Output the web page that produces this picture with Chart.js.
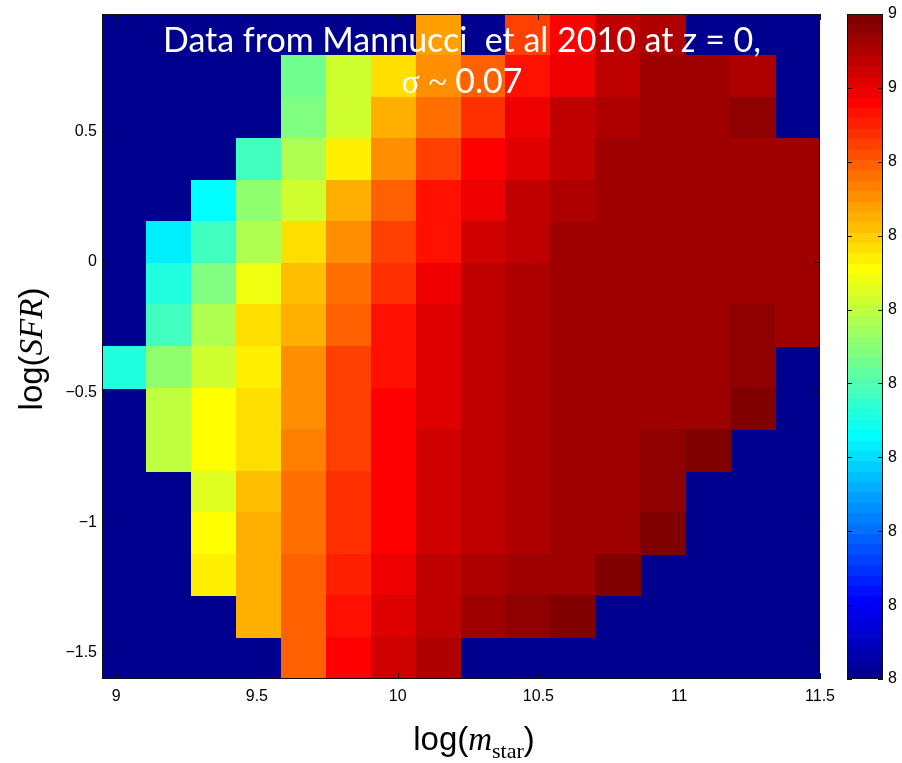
<!DOCTYPE html>
<html>
<head>
<meta charset="utf-8">
<script src="https://cdn.jsdelivr.net/npm/chart.js@4/dist/chart.umd.min.js"></script>
<style>
  body { margin: 0; background: #fff; }
  canvas { display: block; }
</style>
</head>
<body>
<canvas id="metalChart" width="902" height="763"></canvas>
<script>
// bin centres: log stellar mass (columns) and log SFR (rows, top to bottom)
const massBins = [9.030, 9.189, 9.348, 9.508, 9.667, 9.827, 9.986, 10.145,
                  10.305, 10.464, 10.623, 10.783, 10.942, 11.102, 11.261, 11.420];
const sfrBins = [0.870, 0.711, 0.552, 0.392, 0.233, 0.073, -0.086, -0.245,
                 -0.405, -0.564, -0.723, -0.883, -1.042, -1.202, -1.361, -1.520];
const BIN = 0.1594;

// 12+log(O/H) per bin, null = empty bin
const metallicity = [
  [null, null, null, null, null, null, null, 8.89, null, 8.97, 9.03, 9.09, 9.10, null, null, null],
  [null, null, null, null, 8.68, 8.76, 8.83, 8.90, 8.95, 9.02, 9.04, 9.09, 9.11, 9.11, 9.10, null],
  [null, null, null, null, 8.69, 8.76, 8.88, 8.93, 8.99, 9.04, 9.09, 9.10, 9.11, 9.11, 9.13, null],
  [null, null, null, 8.64, 8.74, 8.82, 8.90, 8.97, 9.03, 9.06, 9.09, 9.11, 9.11, 9.11, 9.11, 9.11],
  [null, null, 8.58, 8.71, 8.76, 8.88, 8.95, 9.02, 9.04, 9.09, 9.10, 9.11, 9.11, 9.11, 9.11, 9.11],
  [null, 8.57, 8.64, 8.74, 8.83, 8.90, 8.97, 9.02, 9.07, 9.09, 9.11, 9.11, 9.11, 9.11, 9.11, 9.11],
  [null, 8.61, 8.69, 8.79, 8.86, 8.93, 8.99, 9.04, 9.09, 9.10, 9.11, 9.11, 9.11, 9.11, 9.11, 9.11],
  [null, 8.64, 8.74, 8.83, 8.88, 8.95, 9.02, 9.06, 9.09, 9.10, 9.11, 9.11, 9.11, 9.11, 9.13, 9.11],
  [8.61, 8.71, 8.76, 8.82, 8.90, 8.97, 9.02, 9.06, 9.09, 9.10, 9.11, 9.11, 9.11, 9.11, 9.13, null],
  [null, 8.75, 8.80, 8.83, 8.90, 8.97, 9.03, 9.06, 9.09, 9.10, 9.11, 9.11, 9.11, 9.11, 9.14, null],
  [null, 8.75, 8.80, 8.83, 8.92, 8.97, 9.03, 9.07, 9.09, 9.10, 9.11, 9.11, 9.13, 9.14, null, null],
  [null, null, 8.78, 8.86, 8.93, 8.99, 9.03, 9.07, 9.09, 9.10, 9.11, 9.11, 9.13, null, null, null],
  [null, null, 8.80, 8.88, 8.93, 8.99, 9.03, 9.07, 9.09, 9.10, 9.11, 9.11, 9.14, null, null, null],
  [null, null, 8.82, 8.88, 8.95, 9.00, 9.04, 9.09, 9.10, 9.11, 9.11, 9.14, null, null, null, null],
  [null, null, null, 8.88, 8.95, 9.02, 9.06, 9.09, 9.11, 9.13, 9.14, null, null, null, null, null],
  [null, null, null, null, 8.95, 9.03, 9.07, 9.10, null, null, null, null, null, null, null, null]
];

const massTicks = [9, 9.5, 10, 10.5, 11, 11.5];
const massTickLabels = ['9', '9.5', '10', '10.5', '11', '11.5'];
const sfrTicks = [-1.5, -1, -0.5, 0, 0.5];
const sfrTickLabels = ['\u22121.5', '\u22121', '\u22120.5', '0', '0.5'];
const colorTicks = [8.25, 8.35, 8.45, 8.55, 8.65, 8.75, 8.85, 8.95, 9.05, 9.15];
const colorTickLabels = ['8', '8', '8', '8', '8', '8', '8', '8', '9', '9'];
const colorMin = 8.25, colorMax = 9.15;

// MATLAB style jet colormap with 64 levels
const LEVELS = 64;
function ramp(k) {
  if (k < 1 || k > 47) return 0;
  if (k <= 16) return k / 16;
  if (k <= 31) return 1;
  return (48 - k) / 16;
}
function jet(i) {
  const c = v => Math.round(255 * v);
  return `rgb(${c(ramp(i - 24))},${c(ramp(i - 8))},${c(ramp(i + 8))})`;
}
function colorIndex(v) {
  const i = Math.floor((v - colorMin) / (colorMax - colorMin) * LEVELS) + 1;
  return Math.min(LEVELS, Math.max(1, i));
}

const cells = [];
sfrBins.forEach((sfr, r) => {
  massBins.forEach((m, c) => {
    const z = metallicity[r][c];
    if (z !== null) cells.push({ x: m, y: sfr, z: z });
  });
});

function drawRuns(ctx, runs, cx, baseline) {
  let total = 0;
  runs.forEach(r => { ctx.font = r.font; r.w = ctx.measureText(r.text).width; total += r.w; });
  let x = cx - total / 2;
  ctx.textAlign = 'left';
  ctx.textBaseline = 'alphabetic';
  runs.forEach(r => {
    ctx.font = r.font;
    ctx.fillText(r.text, x, baseline + (r.dy || 0));
    x += r.w;
  });
}

// keep the axes from reserving label room above/below the plot
function fixSize(prop, size) {
  return s => {
    s[prop] = size;
    s.paddingTop = s.paddingBottom = s.paddingLeft = s.paddingRight = 0;
  };
}

const heatmap = {
  id: 'heatmap',
  beforeDatasetsDraw(chart) {
    const { ctx, chartArea: a, scales: { x, y } } = chart;
    ctx.save();
    ctx.fillStyle = jet(1);
    ctx.fillRect(a.left, a.top, a.width, a.height);
    ctx.beginPath();
    ctx.rect(a.left, a.top, a.width, a.height);
    ctx.clip();
    chart.data.datasets[0].data.forEach(p => {
      const x0 = Math.floor(x.getPixelForValue(p.x - BIN / 2));
      const x1 = Math.ceil(x.getPixelForValue(p.x + BIN / 2));
      const y0 = Math.floor(y.getPixelForValue(p.y + BIN / 2));
      const y1 = Math.ceil(y.getPixelForValue(p.y - BIN / 2));
      ctx.fillStyle = jet(colorIndex(p.z));
      ctx.fillRect(x0, y0, x1 - x0, y1 - y0);
    });
    ctx.restore();
  }
};

const frame = {
  id: 'frame',
  afterDatasetsDraw(chart) {
    const { ctx, chartArea: a, scales: { x, y, cb } } = chart;
    const T = 6;
    ctx.save();
    ctx.strokeStyle = '#111';
    ctx.lineWidth = 1;
    ctx.strokeRect(a.left + 0.5, a.top + 0.5, a.width - 1, a.height - 1);

    // inward tick marks on all four sides
    ctx.beginPath();
    x.ticks.forEach(t => {
      const px = Math.round(x.getPixelForValue(t.value)) + 0.5;
      ctx.moveTo(px, a.bottom); ctx.lineTo(px, a.bottom - T);
      ctx.moveTo(px, a.top); ctx.lineTo(px, a.top + T);
    });
    y.ticks.forEach(t => {
      const py = Math.round(y.getPixelForValue(t.value)) + 0.5;
      ctx.moveTo(a.left, py); ctx.lineTo(a.left + T, py);
      ctx.moveTo(a.right, py); ctx.lineTo(a.right - T, py);
    });
    ctx.stroke();

    // colour bar
    const bl = a.right + 27, bw = 36;
    for (let i = 1; i <= LEVELS; i++) {
      const v0 = colorMin + (i - 1) * (colorMax - colorMin) / LEVELS;
      const v1 = colorMin + i * (colorMax - colorMin) / LEVELS;
      const p0 = Math.ceil(cb.getPixelForValue(v0));
      const p1 = Math.floor(cb.getPixelForValue(v1));
      ctx.fillStyle = jet(i);
      ctx.fillRect(bl, p1, bw, p0 - p1);
    }
    ctx.strokeRect(bl + 0.5, a.top + 0.5, bw - 1, a.height - 1);
    ctx.beginPath();
    cb.ticks.forEach(t => {
      const py = Math.round(cb.getPixelForValue(t.value)) + 0.5;
      ctx.moveTo(bl, py); ctx.lineTo(bl + 5, py);
      ctx.moveTo(bl + bw, py); ctx.lineTo(bl + bw - 5, py);
    });
    ctx.stroke();

    // title over the map
    ctx.fillStyle = '#fff';
    ctx.font = '32px Lato';
    const line1 = 'Data from Mannucci  et al 2010 at z = 0,';
    const size = 32 * 599 / ctx.measureText(line1).width;
    drawRuns(ctx, [
      { text: 'Data from Mannucci  et al 2010 at ', font: `${size}px Lato` },
      { text: 'z', font: `italic ${size}px Lato` },
      { text: ' = 0,', font: `${size}px Lato` }
    ], 462, 52);
    drawRuns(ctx, [
      { text: '\u03c3 ~ ', font: `${size}px "Liberation Serif"` },
      { text: '0.07', font: `${size}px Lato` }
    ], 462, 93);

    // axis titles
    ctx.fillStyle = '#000';
    drawRuns(ctx, [
      { text: 'log(', font: '33px "Liberation Sans"' },
      { text: 'm', font: 'italic 33px "Liberation Serif"' },
      { text: 'star', font: '22px "Liberation Serif"', dy: 8 },
      { text: ')', font: '33px "Liberation Sans"' }
    ], 474, 750);
    ctx.translate(42, 349);
    ctx.rotate(-Math.PI / 2);
    drawRuns(ctx, [
      { text: 'log(', font: '33px "Liberation Sans"' },
      { text: 'SFR', font: 'italic 33px "Liberation Serif"' },
      { text: ')', font: '33px "Liberation Sans"' }
    ], 0, 0);
    ctx.restore();
  }
};

Chart.defaults.font.family = '"Liberation Sans", Arial, sans-serif';
Chart.defaults.font.size = 16;
Chart.defaults.color = '#000';

new Chart(document.getElementById('metalChart'), {
  type: 'scatter',
  data: {
    datasets: [{
      label: 'metallicity',
      data: cells,
      pointRadius: 0,
      pointHoverRadius: 0
    }]
  },
  options: {
    responsive: false,
    animation: false,
    events: [],
    layout: { padding: { top: 14, left: 0, right: 0, bottom: 0 } },
    plugins: { legend: { display: false }, tooltip: { enabled: false } },
    scales: {
      x: {
        type: 'linear', position: 'bottom', min: 8.95, max: 11.5,
        afterBuildTicks: s => { s.ticks = massTicks.map(v => ({ value: v })); },
        afterFit: fixSize('height', 84),
        ticks: { padding: 8, maxRotation: 0, autoSkip: false, callback: (v, i) => massTickLabels[i] },
        grid: { display: false, drawTicks: false },
        border: { display: false }
      },
      y: {
        type: 'linear', position: 'left', min: -1.6, max: 0.95,
        afterBuildTicks: s => { s.ticks = sfrTicks.map(v => ({ value: v })); },
        afterFit: fixSize('width', 102),
        ticks: { padding: 5, autoSkip: false, callback: (v, i) => sfrTickLabels[i] },
        grid: { display: false, drawTicks: false },
        border: { display: false }
      },
      cb: {
        type: 'linear', position: 'right', min: colorMin, max: colorMax,
        afterBuildTicks: s => { s.ticks = colorTicks.map(v => ({ value: v })); },
        afterFit: fixSize('width', 82),
        ticks: { padding: 68, autoSkip: false, callback: (v, i) => colorTickLabels[i] },
        grid: { display: false, drawTicks: false },
        border: { display: false }
      }
    }
  },
  plugins: [heatmap, frame]
});
</script>
</body>
</html>
